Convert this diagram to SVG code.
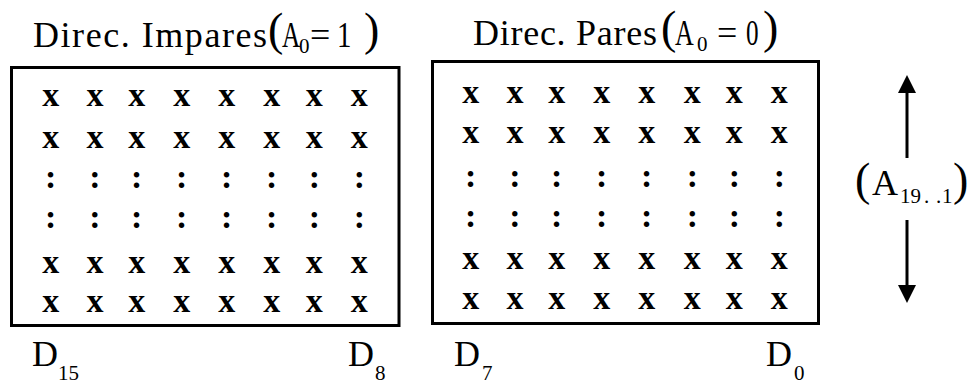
<svg xmlns="http://www.w3.org/2000/svg" width="967" height="386" viewBox="0 0 967 386">
<style>
  text { font-family: "Liberation Serif", "Times New Roman", serif; fill: #000; }
  .t { font-size: 36px; }
  .par { font-size: 46px; }
  .sub { font-size: 21px; }
  .cell { font-size: 34px; text-anchor: middle; font-weight: bold; }
  .box { fill: #fff; stroke: #000; stroke-width: 3; }
  .conn { stroke: #000; stroke-width: 3; fill: none; }
</style>
<defs>
  <marker id="ah" viewBox="0 0 18 18" refX="0" refY="9" markerWidth="18" markerHeight="18" markerUnits="userSpaceOnUse" orient="auto">
    <path d="M0,0 L18,9 L0,18 Z" fill="#000"/>
  </marker>
</defs>
<rect width="967" height="386" fill="#fff"/>

<g id="title-impares">
  <text class="t" x="33" y="47" textLength="234" lengthAdjust="spacing">Direc. Impares</text>
  <text class="par" x="268" y="45">(</text>
  <text class="t" transform="translate(282 47) scale(0.7 1)">A</text>
  <text class="sub" x="299" y="53" font-size="12">0</text>
  <text class="t" x="310" y="47">=</text>
  <text class="t" transform="translate(337 47) scale(0.8 1)">1</text>
  <text class="par" x="364" y="45">)</text>
</g>

<g id="title-pares">
  <text class="t" x="473" y="45" textLength="184" lengthAdjust="spacing">Direc. Pares</text>
  <text class="par" x="661" y="43">(</text>
  <text class="t" transform="translate(675 45) scale(0.72 1)">A</text>
  <text class="sub" x="697" y="51" font-size="14">0</text>
  <text class="t" x="717" y="45">=</text>
  <text class="t" transform="translate(746 45) scale(0.7 1)">0</text>
  <text class="par" x="763" y="43">)</text>
</g>

<g id="bank-impares">
  <rect class="box" x="11.5" y="67.5" width="387.5" height="258"/>
  <g class="cells">
    <text class="cell" y="106"><tspan x="50.7">x</tspan><tspan x="95">x</tspan><tspan x="136.7">x</tspan><tspan x="181.7">x</tspan><tspan x="226.7">x</tspan><tspan x="271.7">x</tspan><tspan x="314.3">x</tspan><tspan x="359.3">x</tspan></text>
    <text class="cell" y="148"><tspan x="50.7">x</tspan><tspan x="95">x</tspan><tspan x="136.7">x</tspan><tspan x="181.7">x</tspan><tspan x="226.7">x</tspan><tspan x="271.7">x</tspan><tspan x="314.3">x</tspan><tspan x="359.3">x</tspan></text>
    <text class="cell" y="188"><tspan x="50.7">:</tspan><tspan x="95">:</tspan><tspan x="136.7">:</tspan><tspan x="181.7">:</tspan><tspan x="226.7">:</tspan><tspan x="271.7">:</tspan><tspan x="314.3">:</tspan><tspan x="359.3">:</tspan></text>
    <text class="cell" y="228"><tspan x="50.7">:</tspan><tspan x="95">:</tspan><tspan x="136.7">:</tspan><tspan x="181.7">:</tspan><tspan x="226.7">:</tspan><tspan x="271.7">:</tspan><tspan x="314.3">:</tspan><tspan x="359.3">:</tspan></text>
    <text class="cell" y="273"><tspan x="50.7">x</tspan><tspan x="95">x</tspan><tspan x="136.7">x</tspan><tspan x="181.7">x</tspan><tspan x="226.7">x</tspan><tspan x="271.7">x</tspan><tspan x="314.3">x</tspan><tspan x="359.3">x</tspan></text>
    <text class="cell" y="312"><tspan x="50.7">x</tspan><tspan x="95">x</tspan><tspan x="136.7">x</tspan><tspan x="181.7">x</tspan><tspan x="226.7">x</tspan><tspan x="271.7">x</tspan><tspan x="314.3">x</tspan><tspan x="359.3">x</tspan></text>
  </g>
</g>

<g id="bank-pares">
  <rect class="box" x="432.5" y="61.5" width="386" height="262"/>
  <g class="cells">
    <text class="cell" y="103"><tspan x="470.7">x</tspan><tspan x="515">x</tspan><tspan x="556.7">x</tspan><tspan x="601.7">x</tspan><tspan x="646.7">x</tspan><tspan x="692.3">x</tspan><tspan x="734.3">x</tspan><tspan x="779.3">x</tspan></text>
    <text class="cell" y="143"><tspan x="470.7">x</tspan><tspan x="515">x</tspan><tspan x="556.7">x</tspan><tspan x="601.7">x</tspan><tspan x="646.7">x</tspan><tspan x="692.3">x</tspan><tspan x="734.3">x</tspan><tspan x="779.3">x</tspan></text>
    <text class="cell" y="187"><tspan x="470.7">:</tspan><tspan x="515">:</tspan><tspan x="556.7">:</tspan><tspan x="601.7">:</tspan><tspan x="646.7">:</tspan><tspan x="692.3">:</tspan><tspan x="734.3">:</tspan><tspan x="779.3">:</tspan></text>
    <text class="cell" y="227"><tspan x="470.7">:</tspan><tspan x="515">:</tspan><tspan x="556.7">:</tspan><tspan x="601.7">:</tspan><tspan x="646.7">:</tspan><tspan x="692.3">:</tspan><tspan x="734.3">:</tspan><tspan x="779.3">:</tspan></text>
    <text class="cell" y="269"><tspan x="470.7">x</tspan><tspan x="515">x</tspan><tspan x="556.7">x</tspan><tspan x="601.7">x</tspan><tspan x="646.7">x</tspan><tspan x="692.3">x</tspan><tspan x="734.3">x</tspan><tspan x="779.3">x</tspan></text>
    <text class="cell" y="309"><tspan x="470.7">x</tspan><tspan x="515">x</tspan><tspan x="556.7">x</tspan><tspan x="601.7">x</tspan><tspan x="646.7">x</tspan><tspan x="692.3">x</tspan><tspan x="734.3">x</tspan><tspan x="779.3">x</tspan></text>
  </g>
</g>

<g id="bit-labels">
  <text class="t" x="32" y="366" font-size="34">D</text><text class="sub" x="58" y="380" font-size="24">15</text>
  <text class="t" x="348" y="366" font-size="34">D</text><text class="sub" x="375" y="380" font-size="24">8</text>
  <text class="t" x="454" y="366" font-size="34">D</text><text class="sub" x="482" y="380" font-size="24">7</text>
  <text class="t" x="766" y="366" font-size="34">D</text><text class="sub" x="794" y="380" font-size="24">0</text>
</g>

<g id="address-label">
  <text class="par" x="855" y="195">(</text>
  <text class="t" x="872" y="195" font-size="34">A</text>
  <text class="sub" y="203"><tspan x="900">19</tspan><tspan x="924">.</tspan><tspan x="936">.</tspan><tspan x="942">1</tspan></text>
  <text class="par" x="953" y="195">)</text>
</g>

<g id="connectors">
  <line class="conn" x1="907" y1="158" x2="907" y2="93" marker-end="url(#ah)"/>
  <line class="conn" x1="907" y1="220" x2="907" y2="285" marker-end="url(#ah)"/>
</g>
</svg>
